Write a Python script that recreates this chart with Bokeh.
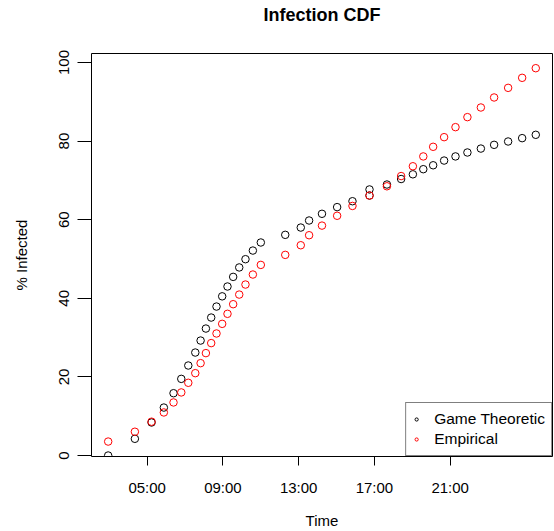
from bokeh.plotting import figure
from bokeh.models import Range1d, FixedTicker, Legend, LegendItem
from bokeh.embed import file_html
from bokeh.resources import INLINE

# Time of day in hours
emp_time = [2.94, 4.35, 5.23, 5.88, 6.39, 6.80, 7.17, 7.54, 7.82, 8.10, 8.38, 8.66,
            8.96, 9.24, 9.54, 9.86, 10.19, 10.58, 11.00, 12.29, 13.11, 13.55, 14.23,
            15.03, 15.84, 16.74, 17.66, 18.41, 19.03, 19.58, 20.10, 20.68, 21.28,
            21.91, 22.62, 23.32, 24.06, 24.80, 25.52]
game_time = [2.94, 4.35, 5.23, 5.88, 6.39, 6.80, 7.17, 7.54, 7.82, 8.10, 8.38, 8.66,
             8.96, 9.24, 9.54, 9.86, 10.19, 10.58, 11.00, 12.29, 13.11, 13.55, 14.23,
             15.03, 15.84, 16.74, 16.74, 17.66, 18.41, 19.03, 19.58, 20.10, 20.68, 21.28,
             21.91, 22.62, 23.32, 24.06, 24.80, 25.52]

# % infected
game_pct = [0.0, 4.25, 8.4, 12.2, 15.85, 19.5, 22.9, 26.2, 29.25, 32.3, 35.1, 37.9,
            40.5, 43.0, 45.45, 47.85, 49.95, 52.15, 54.2, 56.15, 58.0, 59.8, 61.5,
            63.2, 64.7, 66.15, 67.7, 68.95, 70.35, 71.55, 72.85, 73.85, 75.05, 76.1,
            77.1, 78.1, 79.05, 79.9, 80.75, 81.6]
emp_pct = [3.55, 6.05, 8.6, 10.95, 13.5, 16.05, 18.5, 20.95, 23.5, 26.05, 28.6, 31.05,
           33.5, 36.05, 38.5, 40.95, 43.5, 46.05, 48.5, 51.05, 53.5, 56.05, 58.5, 61.0,
           63.5, 66.15, 68.5, 71.1, 73.6, 76.1, 78.55, 81.0, 83.55, 86.1, 88.55, 91.1,
           93.55, 96.1, 98.55]

x_ticks = [5, 9, 13, 17, 21]
x_tick_labels = ["05:00", "09:00", "13:00", "17:00", "21:00"]
y_ticks = [0, 20, 40, 60, 80, 100]

FONT = "Liberation Sans"

p = figure(width=554, height=531, output_backend="svg", toolbar_location=None,
           x_range=Range1d(2.059, 26.403), y_range=Range1d(-0.254, 102.29),
           min_border_left=91, min_border_right=2, min_border_top=53,
           min_border_bottom=75)

p.title.text = "Infection CDF"
p.title.align = "center"
p.title.text_font = FONT
p.title.text_font_size = "18px"
p.title.text_font_style = "bold"
p.title.text_color = "black"
p.title.standoff = 0
p.title.padding = {"left": 0, "right": 0, "top": 0, "bottom": 29}

p.grid.grid_line_color = None
p.outline_line_color = "black"
p.outline_line_width = 1
p.outline_line_alpha = 1

for ax in (p.xaxis[0], p.yaxis[0]):
    ax.axis_line_color = None
    ax.major_tick_line_color = "black"
    ax.major_tick_in = 0
    ax.minor_tick_line_color = None
    ax.major_label_text_font = FONT
    ax.major_label_text_font_size = "15px"
    ax.major_label_text_color = "black"
    ax.axis_label_text_font = FONT
    ax.axis_label_text_font_size = "15px"
    ax.axis_label_text_font_style = "normal"
    ax.axis_label_text_color = "black"

p.xaxis.ticker = FixedTicker(ticks=x_ticks)
p.xaxis.major_label_overrides = {t: l for t, l in zip(x_ticks, x_tick_labels)}
p.xaxis.major_tick_out = 9
p.xaxis.major_label_standoff = 13
p.xaxis.axis_label = "Time"
p.xaxis.axis_label_standoff = 13

p.yaxis.ticker = FixedTicker(ticks=y_ticks)
p.yaxis.major_tick_out = 14
p.yaxis.major_label_orientation = "vertical"
p.yaxis.major_label_standoff = 8
p.yaxis.axis_label = "% Infected"
p.yaxis.axis_label_standoff = 27

r_game = p.scatter(game_time, game_pct, marker="circle", size=7.5,
                   fill_color=None, line_color="black", line_width=1)
r_emp = p.scatter(emp_time, emp_pct, marker="circle", size=7.5,
                  fill_color=None, line_color="red", line_width=1)

legend = Legend(items=[LegendItem(label="Game Theoretic", renderers=[r_game]),
                       LegendItem(label="Empirical", renderers=[r_emp])],
                location="bottom_right", margin=0, padding=6, spacing=0,
                glyph_width=8, glyph_height=20, label_height=20, label_standoff=14,
                label_text_font=FONT, label_text_font_size="15.5px",
                label_text_color="black", border_line_color="black",
                border_line_width=1, background_fill_alpha=1)
p.add_layout(legend)

open("out.html", "w").write(file_html(p, INLINE))
